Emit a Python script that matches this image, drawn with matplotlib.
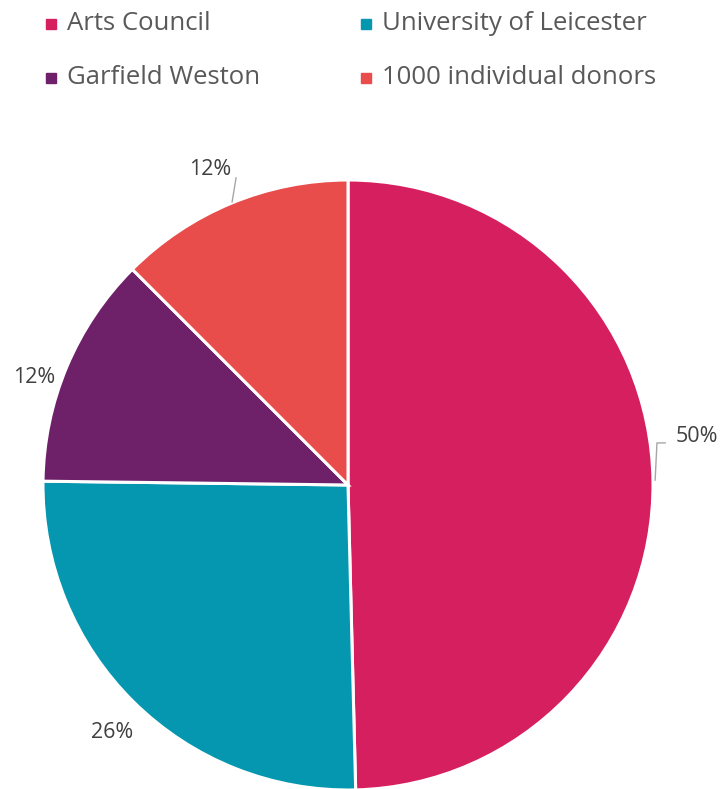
import matplotlib.pyplot as plt
from matplotlib.patches import Rectangle

plt.rcParams['font.family'] = ['Open Sans', 'DejaVu Sans']

# funding shares (percent), clockwise from 12 o'clock
sources = ['Arts Council', 'University of Leicester', 'Garfield Weston', '1000 individual donors']
shares = [49.6, 25.6, 12.3, 12.5]
labels = ['50%', '26%', '12%', '12%']
colors = ['#D61F5F', '#0597B0', '#6E2169', '#E84C4B']

W, H = 720, 789
fig = plt.figure(figsize=(W / 100, H / 100), dpi=100)

# pie axes: centre (348, 485) px, radius 305 px
cx, cy, r = 348, 485, 305
ax = fig.add_axes([(cx - r) / W, (H - cy - r) / H, 2 * r / W, 2 * r / H])
ax.pie(shares, colors=colors, startangle=90, counterclock=False, radius=1,
       wedgeprops=dict(edgecolor='white', linewidth=2.2))
ax.set_xlim(-1, 1)
ax.set_ylim(-1, 1)
ax.set_aspect('equal')
ax.axis('off')

# data labels (positions in radius units)
lab_pos = [(1.144, 0.160), (-0.775, -0.813), (-1.03, 0.354), (-0.452, 1.035)]
for lab, (x, y) in zip(labels, lab_pos):
    ax.text(x, y, lab, ha='center', va='center', fontsize=15.5, color='#404040',
            clip_on=False)

# leader lines
ax.plot([1.007, 1.013, 1.040], [0.016, 0.138, 0.138], color='#A6A6A6', lw=1,
        clip_on=False)
ax.plot([-0.380, -0.367], [0.928, 1.007], color='#A6A6A6', lw=1, clip_on=False)

# legend, two columns
col_x = [46, 361]
row_y = [24, 78]
for i, (src, col) in enumerate(zip(sources, colors)):
    x = col_x[i % 2]
    y = row_y[i // 2]
    fig.patches.append(Rectangle((x / W, (H - y - 5) / H), 10 / W, 10 / H,
                                 transform=fig.transFigure, color=col))
    fig.text((x + 21) / W, (H - y) / H, src, ha='left', va='center',
             fontsize=18.5, color='#595959')

fig.savefig('out.png', dpi=100)
